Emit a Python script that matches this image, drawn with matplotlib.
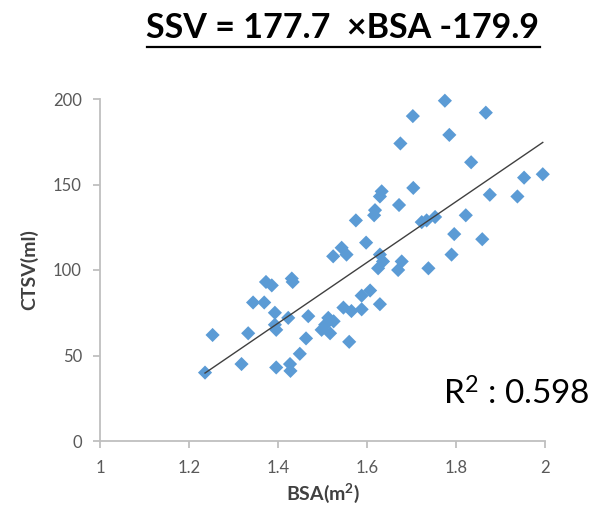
import matplotlib
matplotlib.use("Agg")
import matplotlib.pyplot as plt
from matplotlib.lines import Line2D
import numpy as np

bsa = [1.236, 1.253, 1.318, 1.333, 1.344, 1.369, 1.373, 1.386, 1.431, 1.433,
       1.393, 1.396, 1.393, 1.423, 1.396, 1.427, 1.428, 1.449, 1.463, 1.468,
       1.513, 1.506, 1.498, 1.517, 1.525, 1.547, 1.565, 1.588, 1.560, 1.607,
       1.588, 1.629, 1.524, 1.543, 1.554, 1.598, 1.575, 1.618, 1.616, 1.633,
       1.629, 1.672, 1.704, 1.629, 1.636, 1.625, 1.678, 1.670, 1.738, 1.723,
       1.734, 1.753, 1.775, 1.703, 1.867, 1.785, 1.675, 1.834, 1.953, 1.995,
       1.876, 1.938, 1.822, 1.796, 1.859, 1.790]
ctsv = [40, 62, 45, 63, 81, 81, 93, 91, 95, 93,
        75, 65, 68, 72, 43, 45, 41, 51, 60, 73,
        72, 68, 65, 63, 70, 78, 76, 77, 58, 88,
        85, 80, 108, 113, 109, 116, 129, 135, 132, 146,
        143, 138, 148, 109, 105, 101, 105, 100, 101, 128,
        129, 131, 199, 190, 192, 179, 174, 163, 154, 156,
        144, 143, 132, 121, 118, 109]

slope = 177.7
intercept = -179.9
r2 = 0.598

x_ticks = [1, 1.2, 1.4, 1.6, 1.8, 2]
x_tick_labels = ["1", "1.2", "1.4", "1.6", "1.8", "2"]
y_ticks = [0, 50, 100, 150, 200]

title_text = "SSV = 177.7  \u00d7BSA -179.9"

plt.rcParams['font.family'] = ['Lato', 'DejaVu Sans']
plt.rcParams['mathtext.fontset'] = 'custom'
plt.rcParams['mathtext.rm'] = 'Lato'
plt.rcParams['mathtext.bf'] = 'Lato:bold'
plt.rcParams['mathtext.it'] = 'Lato:italic'

fig = plt.figure(figsize=(6.03, 5.14), dpi=100)
ax = fig.add_axes([100/603, 73/514, 445/603, 342/514])

ax.scatter(bsa, ctsv, marker='D', s=52, color='#5B9BD5', edgecolors='none',
           zorder=3, clip_on=False)

xl = np.array([min(bsa), max(bsa)])
ax.plot(xl, slope * xl + intercept, color='#404040', lw=1.0, zorder=4)

ax.set_xlim(1, 2)
ax.set_ylim(0, 200)
ax.set_xticks(x_ticks)
ax.set_xticklabels(x_tick_labels)
ax.set_yticks(y_ticks)

for s in ['top', 'right']:
    ax.spines[s].set_visible(False)
for s in ['left', 'bottom']:
    ax.spines[s].set_color('#BFBFBF')
    ax.spines[s].set_linewidth(1.3)
ax.tick_params(axis='both', colors='#BFBFBF', width=1.3, length=5,
               labelcolor='#595959', labelsize=12)
ax.tick_params(axis='y', pad=8)
ax.tick_params(axis='x', pad=9)

ax.set_xlabel(r"$\mathbf{BSA(m^{2})}$", fontsize=14, color='#404040', labelpad=4)
ax.set_ylabel("CTSV(ml)", fontsize=14, fontweight='bold', color='#404040', labelpad=11)

ax.text(443/603, 1 - 405/514, r"R$^2$ : %.3f" % r2, transform=fig.transFigure,
        fontsize=24, color='black', ha='left', va='baseline')

t = fig.text(343/603, 1 - 38/514, title_text, fontsize=24.5, fontweight='bold',
             ha='center', va='baseline', color='black')
fig.canvas.draw()
bb = t.get_window_extent(renderer=fig.canvas.get_renderer())
inv = fig.transFigure.inverted()
(x0, y0), (x1, y1) = inv.transform([[bb.x0, bb.y0], [bb.x1, bb.y1]])
uy = 1 - 47/514
fig.add_artist(Line2D([x0, x1], [uy, uy], transform=fig.transFigure, color='black', lw=1.6))

fig.savefig("out.png", dpi=100)
